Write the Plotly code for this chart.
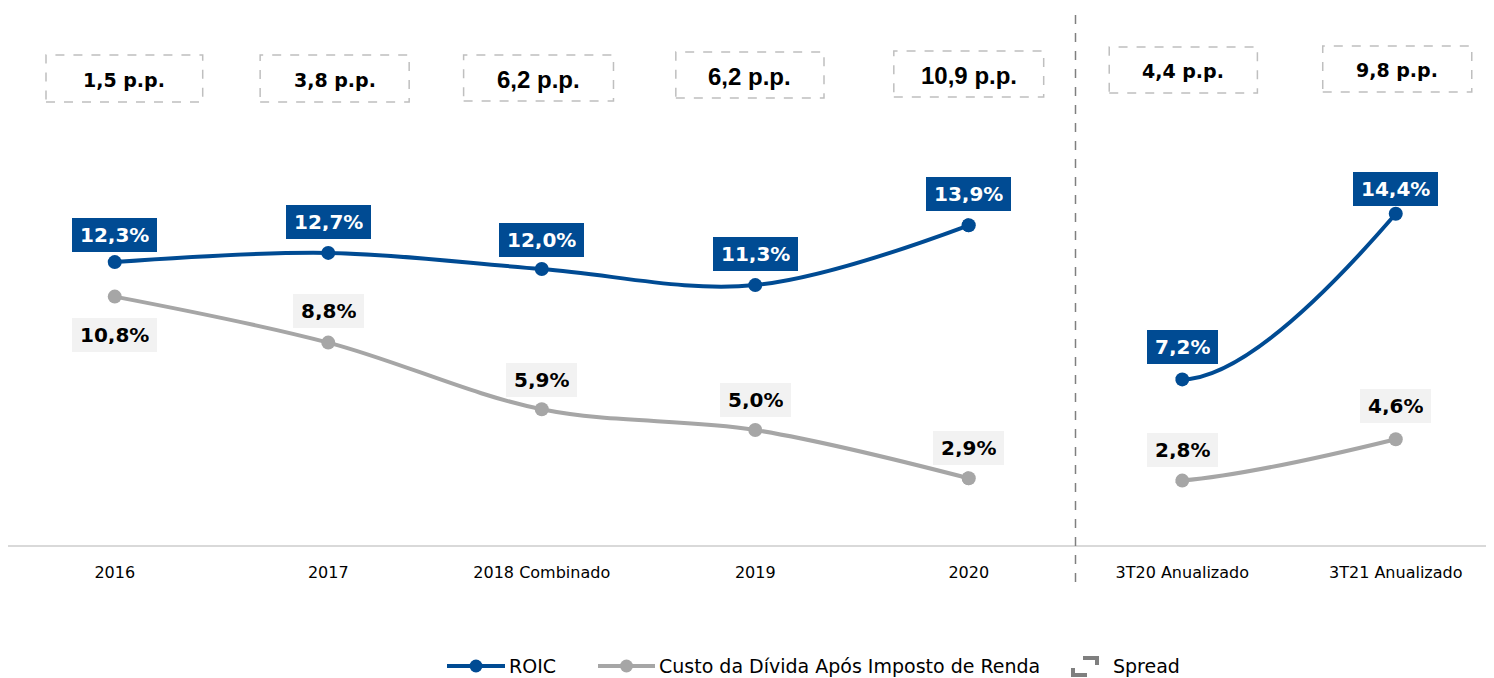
import plotly.graph_objects as go

# ---- data ----
categories = ["2016", "2017", "2018 Combinado", "2019", "2020", "3T20 Anualizado", "3T21 Anualizado"]
roic = [12.3, 12.7, 12.0, 11.3, 13.9, 7.2, 14.4]
custo = [10.8, 8.8, 5.9, 5.0, 2.9, 2.8, 4.6]
roic_labels = ["12,3%", "12,7%", "12,0%", "11,3%", "13,9%", "7,2%", "14,4%"]
custo_labels = ["10,8%", "8,8%", "5,9%", "5,0%", "2,9%", "2,8%", "4,6%"]
spread_labels = ["1,5 p.p.", "3,8 p.p.", "6,2 p.p.", "6,2 p.p.", "10,9 p.p.", "4,4 p.p.", "9,8 p.p."]
ANNUAL_END = 5  # first 5 categories are annual, the rest quarterly annualised

# ---- style / layout ----
BLUE = "#004B93"
GREY = "#A6A6A6"
LABEL_BG = "#F2F2F2"
BOX_LINE = "#BFBFBF"
FONT = "DejaVu Sans"
spread_fonts = [FONT, FONT, "Liberation Sans", "Liberation Sans", "Liberation Sans", FONT, FONT]
spread_sizes = [19, 19, 24, 24, 24, 19, 19]
MARKER = 14

# page geometry (the page body adds an 8px offset)
OFF = 8
FIG_W, FIG_H = 1494 - OFF, 678 - OFF
PLOT_TOP, PLOT_BOTTOM = 10, 545      # page pixels
PLOT_LEFT, PLOT_RIGHT = 8, 1494
PX_PER_UNIT = 23.0
PX_PER_CAT = 213.5

box_px = [(55, 102), (55, 102), (55, 101), (52, 98), (51, 97), (47, 93), (46, 92)]
box_hw = [0.367, 0.349, 0.351, 0.347, 0.351, 0.347, 0.349]
box_dx = [0.045, 0.03, -0.015, -0.025, 0, 0.005, 0.007]
roic_shift = [27, 31, 29, 31, 31, 32, 25]
custo_shift = [-38, 32, 29, 30, 30, 31, 33]


def px_x(px):
    return (px - PLOT_LEFT) / (PLOT_RIGHT - PLOT_LEFT)


def px_y(py):
    return (PLOT_BOTTOM - py) / (PLOT_BOTTOM - PLOT_TOP)


fig = go.Figure()
xi = list(range(len(categories)))
n_a = ANNUAL_END
series = [(roic, BLUE, "ROIC"), (custo, GREY, "Custo da Dívida Após Imposto de Renda")]

# smoothed lines first
for vals, col, name in series:
    fig.add_trace(go.Scatter(
        x=xi[:n_a], y=vals[:n_a], mode="lines", name=name,
        line=dict(color=col, width=4, shape="spline", smoothing=1.0),
        showlegend=False, hoverinfo="skip",
    ))
    # quarterly block smoothed like the source chart (tangent uses the previous
    # point); the link across the divider is masked below
    fig.add_trace(go.Scatter(
        x=xi[n_a - 1:], y=vals[n_a - 1:], mode="lines", name=name,
        line=dict(color=col, width=4, shape="spline", smoothing=1.0),
        showlegend=False, hoverinfo="skip",
    ))
# markers on top
for vals, col, name in series:
    fig.add_trace(go.Scatter(
        x=xi, y=vals, mode="markers", name=name,
        marker=dict(color=col, size=MARKER, line=dict(width=0)), showlegend=False,
    ))

annotations = []
shapes = []
# white mask hiding the connection between the two blocks, then the two
# boundary markers are re-stamped on top of it
r_x = (MARKER / 2 - 0.2) / PX_PER_CAT
shapes.append(dict(type="rect", xref="x", yref="y", x0=n_a - 1, x1=n_a - r_x,
                   y0=0.3, y1=16, fillcolor="white", line=dict(width=0), layer="above"))
for vals, col, name in series:
    shapes.append(dict(type="circle", xref="x", yref="y", xsizemode="pixel", ysizemode="pixel",
                       xanchor=n_a - 1, yanchor=vals[n_a - 1],
                       x0=-MARKER / 2, x1=MARKER / 2, y0=-MARKER / 2, y1=MARKER / 2,
                       fillcolor=col, line=dict(width=0), layer="above"))

for i in range(len(categories)):
    annotations.append(dict(
        x=i, y=roic[i], xref="x", yref="y", text="<b>%s</b>" % roic_labels[i], showarrow=False,
        yshift=roic_shift[i], bgcolor=BLUE, borderpad=8, borderwidth=0, height=18,
        font=dict(family=FONT, size=20, color="white"),
    ))
    annotations.append(dict(
        x=i, y=custo[i], xref="x", yref="y", text="<b>%s</b>" % custo_labels[i], showarrow=False,
        yshift=custo_shift[i], bgcolor=LABEL_BG, borderpad=8, borderwidth=0, height=18,
        font=dict(family=FONT, size=20, color="black"),
    ))
    t, bt = box_px[i]
    cx = i + box_dx[i]
    shapes.append(dict(
        type="rect", xref="x", yref="paper", x0=cx - box_hw[i], x1=cx + box_hw[i],
        y0=px_y(bt), y1=px_y(t),
        line=dict(color=BOX_LINE, width=1.5, dash="dash"), fillcolor="rgba(0,0,0,0)",
    ))
    annotations.append(dict(
        x=cx, y=px_y((t + bt) / 2 + 1), xref="x", yref="paper", text="<b>%s</b>" % spread_labels[i],
        showarrow=False, yanchor="middle",
        font=dict(family=spread_fonts[i], size=spread_sizes[i], color="black"),
    ))

# divider between annual and quarterly blocks
shapes.append(dict(
    type="line", xref="x", yref="paper", x0=n_a - 0.5, x1=n_a - 0.5,
    y0=px_y(582), y1=px_y(12), layer="above",
    line=dict(color="#7F7F7F", width=1.5, dash="dash"),
))

# ---- custom legend ----
LEG_Y = 666
legend_items = [
    ("ROIC", BLUE, 447, 505, 507),
    ("Custo da Dívida Após Imposto de Renda", GREY, 598, 655, 657),
]
for name, col, x0, x1, tx in legend_items:
    shapes.append(dict(type="line", xref="paper", yref="paper", x0=px_x(x0), x1=px_x(x1),
                       y0=px_y(LEG_Y), y1=px_y(LEG_Y), line=dict(color=col, width=4)))
    shapes.append(dict(type="circle", xref="paper", yref="paper", xsizemode="pixel", ysizemode="pixel",
                       xanchor=px_x((x0 + x1) / 2), yanchor=px_y(LEG_Y), x0=-6.5, x1=6.5, y0=-6.5, y1=6.5,
                       fillcolor=col, line=dict(width=0)))
    annotations.append(dict(x=px_x(tx), y=px_y(LEG_Y), xref="paper", yref="paper", text=name,
                            showarrow=False, xanchor="left", yanchor="middle",
                            font=dict(family=FONT, size=19, color="black")))
# spread icon: two dark-grey corner brackets
ICON = "#7F7F7F"
shapes.append(dict(type="path", xref="paper", yref="paper",
                   path="M %f %f L %f %f L %f %f" % (px_x(1083), px_y(658), px_x(1097), px_y(658), px_x(1097), px_y(665)),
                   line=dict(color=ICON, width=4)))
shapes.append(dict(type="path", xref="paper", yref="paper",
                   path="M %f %f L %f %f L %f %f" % (px_x(1073), px_y(668), px_x(1073), px_y(675), px_x(1087), px_y(675)),
                   line=dict(color=ICON, width=4)))
annotations.append(dict(x=px_x(1111), y=px_y(LEG_Y), xref="paper", yref="paper", text="Spread",
                        showarrow=False, xanchor="left", yanchor="middle",
                        font=dict(family=FONT, size=19, color="black")))

fig.update_layout(
    width=FIG_W, height=FIG_H,
    margin=dict(l=PLOT_LEFT - OFF, r=0, t=PLOT_TOP - OFF, b=FIG_H - (PLOT_BOTTOM - OFF), pad=0, autoexpand=False),
    paper_bgcolor="white", plot_bgcolor="white",
    font=dict(family=FONT, size=16, color="black"),
    xaxis=dict(
        tickmode="array", tickvals=xi, ticktext=categories,
        range=[-0.5, -0.5 + (PLOT_RIGHT - PLOT_LEFT) / PX_PER_CAT], showgrid=False, zeroline=False,
        showline=True, linecolor="#D9D9D9", linewidth=2, ticks="", ticklabelstandoff=12,
        tickfont=dict(family=FONT, size=16, color="black"),
    ),
    yaxis=dict(range=[0, (PLOT_BOTTOM - PLOT_TOP) / PX_PER_UNIT], visible=False),
    showlegend=False,
    annotations=annotations, shapes=shapes,
)

fig.write_html("out.html")
